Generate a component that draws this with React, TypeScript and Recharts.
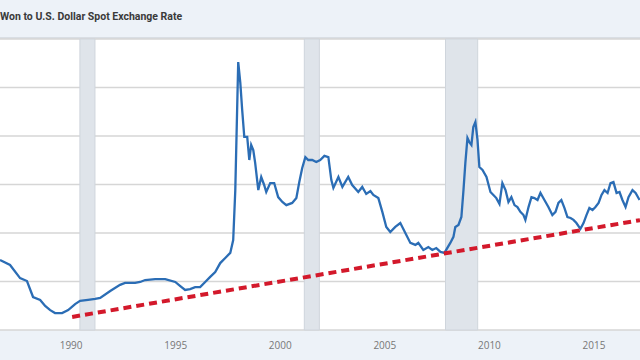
import React from 'react';
import { LineChart, Line, XAxis, YAxis, CartesianGrid, ReferenceArea } from 'recharts';

// won per dollar
const years = [
  1986.6, 1987.08, 1987.56, 1987.89, 1988.18, 1988.52, 1988.76, 1989.0, 1989.23, 1989.57, 1989.86,
  1990.19, 1990.43, 1990.81, 1991.15, 1991.39, 1991.87, 1992.34, 1992.58, 1993.06, 1993.3, 1993.54,
  1994.02, 1994.5, 1994.98, 1995.22, 1995.45, 1995.69, 1995.93, 1996.17, 1996.41, 1996.65, 1996.89,
  1997.13, 1997.37, 1997.61, 1997.75, 1997.85, 1997.99, 1998.09, 1998.18, 1998.28, 1998.42, 1998.52,
  1998.61, 1998.71, 1998.8, 1998.95, 1999.09, 1999.23, 1999.33, 1999.52, 1999.71, 1999.9, 2000.1,
  2000.29, 2000.57, 2000.77, 2000.91, 2001.05, 2001.2, 2001.34, 2001.53, 2001.72, 2001.91, 2002.11,
  2002.3, 2002.44, 2002.54, 2002.78, 2002.97, 2003.25, 2003.44, 2003.73, 2003.92, 2004.11, 2004.31,
  2004.45, 2004.69, 2004.88, 2005.07, 2005.26, 2005.5, 2005.74, 2005.98, 2006.22, 2006.46, 2006.6,
  2006.84, 2007.08, 2007.27, 2007.46, 2007.66, 2007.85, 2008.13, 2008.28, 2008.37, 2008.52, 2008.66,
  2008.76, 2008.85, 2008.95, 2009.04, 2009.14, 2009.23, 2009.33, 2009.43, 2009.52, 2009.67, 2009.86,
  2010.05, 2010.19, 2010.33, 2010.48, 2010.62, 2010.77, 2010.91, 2011.05, 2011.2, 2011.34, 2011.48,
  2011.63, 2011.72, 2011.87, 2012.01, 2012.15, 2012.3, 2012.44, 2012.63, 2012.82, 2013.01, 2013.16,
  2013.3, 2013.44, 2013.59, 2013.73, 2013.88, 2014.02, 2014.16, 2014.35, 2014.5, 2014.64, 2014.78,
  2014.93, 2015.07, 2015.22, 2015.36, 2015.5, 2015.65, 2015.79, 2015.93, 2016.08, 2016.22, 2016.36,
  2016.51, 2016.65, 2016.84, 2016.99, 2017.18,
];
const rates = [
  889, 868, 814, 802, 736, 724, 699, 682, 670, 670, 682,
  707, 720, 724, 728, 732, 761, 786, 794, 794, 798, 806,
  810, 810, 798, 781, 765, 769, 777, 777, 798, 819, 839,
  876, 897, 918, 971, 1177, 1705, 1619, 1507, 1396, 1396, 1301,
  1363, 1342, 1289, 1177, 1231, 1198, 1169, 1206, 1206, 1148, 1128,
  1115, 1124, 1144, 1210, 1268, 1313, 1301, 1301, 1293, 1301, 1318,
  1313, 1219, 1186, 1231, 1190, 1231, 1198, 1169, 1190, 1161, 1173,
  1157, 1144, 1087, 1025, 1004, 1025, 1041, 1000, 959, 951, 959,
  930, 942, 930, 938, 922, 918, 959, 984, 1025, 1033, 1066,
  1177, 1289, 1392, 1375, 1363, 1437, 1458, 1384, 1272, 1260, 1231,
  1169, 1157, 1144, 1120, 1206, 1177, 1128, 1148, 1115, 1107, 1087,
  1074, 1054, 1107, 1148, 1144, 1136, 1165, 1136, 1107, 1074, 1087,
  1124, 1136, 1103, 1066, 1062, 1054, 1041, 1017, 1041, 1074, 1103,
  1095, 1107, 1124, 1157, 1177, 1165, 1206, 1210, 1165, 1169, 1136,
  1107, 1148, 1177, 1165, 1136,
];

// dashed trend line ends
const trendYears = [1990.05, 2017.2];
const trendRates = [654, 1053];

// recessions (shaded)
const recessionStart = [1990.42, 2001.15, 2007.9];
const recessionEnd = [1991.14, 2001.87, 2009.44];

const yearTicks = [1990, 1995, 2000, 2005, 2010, 2015];
const rateTicks = [600, 800, 1000, 1200, 1400, 1600, 1800];

const series = years.map((y, i) => ({ year: y, rate: rates[i] }));
const trend = trendYears.map((y, i) => ({ year: y, rate: trendRates[i] }));

export default function App() {
  return (
    <div
      style={{
        position: 'absolute',
        left: 0,
        top: 0,
        width: 640,
        height: 360,
        background: '#edf2f8',
        overflow: 'hidden',
        fontFamily: '"Open Sans", sans-serif',
      }}
    >
      <div
        style={{
          position: 'absolute',
          left: 0,
          top: 10,
          fontSize: 10.5,
          fontWeight: 700,
          color: '#3a3a3a',
          fontFamily: 'Roboto, sans-serif',
        }}
      >
        Won to U.S. Dollar Spot Exchange Rate
      </div>
      <div style={{ position: 'absolute', left: 0, top: 37, width: 640, height: 2, background: '#d9dee4' }} />
      <LineChart
        width={640}
        height={360}
        margin={{ top: 39, right: 0, bottom: 0, left: 0 }}
        style={{ position: 'absolute', left: 0, top: 0 }}
      >
        <CartesianGrid vertical={false} fill="#ffffff" stroke="#d6d6d6" strokeWidth={1.5} />
        <XAxis
          type="number"
          dataKey="year"
          domain={[1986.6, 2017.2]}
          ticks={yearTicks}
          allowDataOverflow
          axisLine={false}
          tickLine={false}
          height={30}
          tick={{ fontSize: 10, fill: '#777777' }}
          tickMargin={6}
        />
        <YAxis type="number" domain={[600, 1800]} ticks={rateTicks} hide width={0} />
        {recessionStart.map((s, i) => (
          <ReferenceArea
            key={i}
            x1={s}
            x2={recessionEnd[i]}
            fill="#dfe4ea"
            fillOpacity={1}
            stroke="#cfd5dc"
            strokeWidth={1}
          />
        ))}
        <Line
          data={series}
          dataKey="rate"
          type="linear"
          stroke="#2b6db5"
          strokeWidth={2.3}
          dot={false}
          isAnimationActive={false}
        />
        <Line
          data={trend}
          dataKey="rate"
          type="linear"
          stroke="#d3192b"
          strokeWidth={4}
          strokeDasharray="8 5"
          dot={false}
          isAnimationActive={false}
        />
      </LineChart>
    </div>
  );
}
